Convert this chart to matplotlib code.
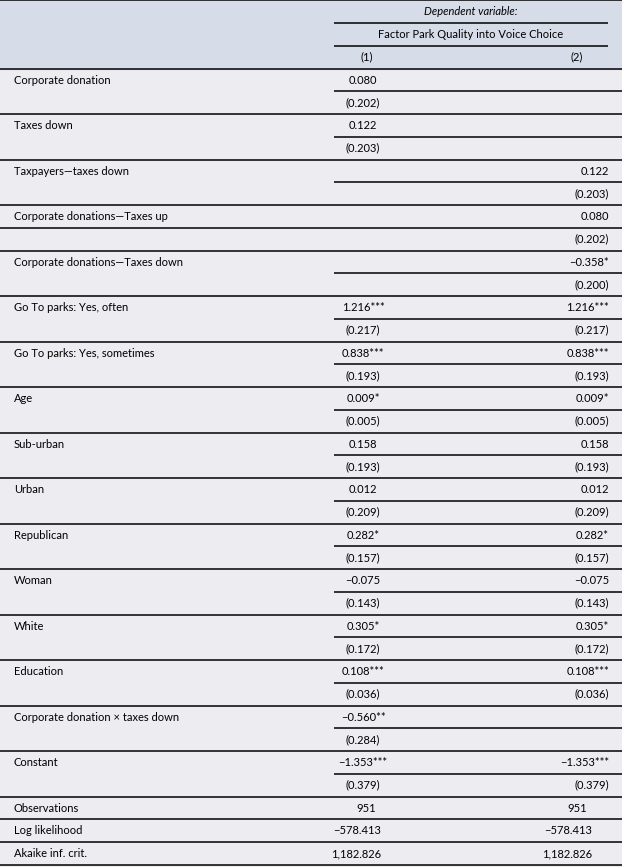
import matplotlib
matplotlib.use("Agg")
import matplotlib.pyplot as plt
from matplotlib.patches import Rectangle

plt.rcParams['font.family'] = ['Lato', 'DejaVu Sans']

# table content
dep_var = "Dependent variable:"
dep_name = "Factor Park Quality into Voice Choice"
model_cols = ["(1)", "(2)"]

variables = ["Corporate donation", "Taxes down", "Taxpayers\u2014taxes down",
             "Corporate donations\u2014Taxes up", "Corporate donations\u2014Taxes down",
             "Go To parks: Yes, often", "Go To parks: Yes, sometimes", "Age",
             "Sub-urban", "Urban", "Republican", "Woman", "White", "Education",
             "Corporate donation \u00d7 taxes down", "Constant"]

coef1 = [0.080, 0.122, None, None, None, 1.216, 0.838, 0.009, 0.158, 0.012,
         0.282, -0.075, 0.305, 0.108, -0.560, -1.353]
se1 = [0.202, 0.203, None, None, None, 0.217, 0.193, 0.005, 0.193, 0.209,
       0.157, 0.143, 0.172, 0.036, 0.284, 0.379]
stars1 = ["", "", "", "", "", "***", "***", "*", "", "", "*", "", "*", "***", "**", "***"]

coef2 = [None, None, 0.122, 0.080, -0.358, 1.216, 0.838, 0.009, 0.158, 0.012,
         0.282, -0.075, 0.305, 0.108, None, -1.353]
se2 = [None, None, 0.203, 0.202, 0.200, 0.217, 0.193, 0.005, 0.193, 0.209,
       0.157, 0.143, 0.172, 0.036, None, 0.379]
stars2 = ["", "", "", "", "*", "***", "***", "*", "", "", "*", "", "*", "***", "", "***"]

stat_names = ["Observations", "Log likelihood", "Akaike inf. crit."]
stat1 = ["951", "\u2212578.413", "1,182.826"]
stat2 = ["951", "\u2212578.413", "1,182.826"]


def fmt(v, stars=""):
    if v is None:
        return ""
    s = f"{abs(v):.3f}"
    if v < 0:
        s = "\u2212" + s
    return s + stars


W, H = 622, 867
fig = plt.figure(figsize=(W / 100, H / 100), dpi=100)
ax = fig.add_axes([0, 0, 1, 1])
ax.set_xlim(0, W)
ax.set_ylim(H, 0)
ax.axis("off")

body_bg = "#ececf1"
head_bg = "#d6dce8"
fig.patch.set_facecolor(body_bg)

rh = 22.75
top = 0.4
fs = 8.0
lw = 1.1
x_lab = 14
x_c1 = 363
x_c2 = 609
x_part = 334

ax.add_patch(Rectangle((0, top), W, 3 * rh, color=head_bg, zorder=0))


def yc(r):
    return top + rh * (r + 0.5)


def yl(r):
    return top + rh * r


# header
ax.text(471, yc(0), dep_var, fontsize=fs, style="italic", ha="center", va="center")
ax.text(471, yc(1), dep_name, fontsize=fs, ha="center", va="center")
ax.text(367, yc(2), model_cols[0], fontsize=fs, ha="center", va="center")
ax.text(577, yc(2), model_cols[1], fontsize=fs, ha="center", va="center")
ax.hlines([yl(0)], 0, W, color="black", lw=lw)
ax.hlines([yl(1), yl(2)], x_part, 608, color="black", lw=lw)
ax.hlines([yl(3)], 0, W, color="black", lw=lw)

# coefficient rows
r = 3
for i, name in enumerate(variables):
    ax.text(x_lab, yc(r), name, fontsize=fs, ha="left", va="center")
    ax.text(x_c1, yc(r), fmt(coef1[i], stars1[i]), fontsize=fs, ha="center", va="center")
    ax.text(x_c2, yc(r), fmt(coef2[i], stars2[i]), fontsize=fs, ha="right", va="center")
    s1 = "" if se1[i] is None else f"({se1[i]:.3f})"
    s2 = "" if se2[i] is None else f"({se2[i]:.3f})"
    ax.text(x_c1, yc(r + 1), s1, fontsize=fs, ha="center", va="center")
    ax.text(x_c2, yc(r + 1), s2, fontsize=fs, ha="right", va="center")
    x0 = 0 if name == "Corporate donations\u2014Taxes up" else x_part
    ax.hlines(yl(r + 1), x0, W, color="black", lw=lw)
    ax.hlines(yl(r + 2), 0, W, color="black", lw=lw)
    r += 2

# summary statistics
for i, name in enumerate(stat_names):
    ax.text(x_lab, yc(r), name, fontsize=fs, ha="left", va="center")
    if stat1[i] == "951":
        ax.text(366, yc(r), stat1[i], fontsize=fs, ha="center", va="center")
        ax.text(577, yc(r), stat2[i], fontsize=fs, ha="center", va="center")
    else:
        ax.text(381, yc(r), stat1[i], fontsize=fs, ha="right", va="center")
        ax.text(592, yc(r), stat2[i], fontsize=fs, ha="right", va="center")
    ax.hlines(yl(r + 1), 0, W, color="black", lw=lw)
    r += 1

fig.savefig("out.png", dpi=100, facecolor=fig.get_facecolor())
